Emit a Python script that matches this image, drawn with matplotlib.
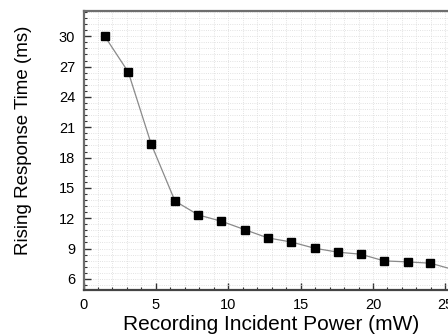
import matplotlib
matplotlib.use("Agg")
import matplotlib.pyplot as plt
from matplotlib.ticker import MultipleLocator

plt.rcParams['font.family'] = ['Liberation Sans', 'DejaVu Sans']

power = [1.47, 3.09, 4.68, 6.32, 7.94, 9.53, 11.14, 12.74, 14.35, 15.97,
         17.58, 19.15, 20.77, 22.39, 23.97, 25.6]
rise_time = [30.0, 26.47, 19.33, 13.7, 12.32, 11.70, 10.87, 10.05, 9.65, 9.03,
             8.64, 8.44, 7.78, 7.68, 7.55, 6.9]
x_ticks = [0, 5, 10, 15, 20, 25]
y_ticks = [6, 9, 12, 15, 18, 21, 24, 27, 30]

W, H = 448, 334
fig = plt.figure(figsize=(W / 100, H / 100), dpi=100)
xmin, xmax = 0, 26
ymin, ymax = 4.9, 32.5
left_px, top_px, bottom_px = 83.5, 11, 290
px_per_unit = 14.44
right_px = 84.4 + px_per_unit * xmax
ax = fig.add_axes([left_px / W, 1 - bottom_px / H,
                   (right_px - left_px) / W, (bottom_px - top_px) / H])

ax.plot(power, rise_time, color='#8a8a8a', lw=0.9, zorder=2)
ax.plot(power, rise_time, ls='none', marker='s', ms=5.2, color='black',
        mec='black', zorder=3)

ax.set_xlim(xmin, xmax)
ax.set_ylim(ymin, ymax)
ax.set_xticks(x_ticks)
ax.set_yticks(y_ticks)
ax.xaxis.set_minor_locator(MultipleLocator(1))
ax.yaxis.set_minor_locator(MultipleLocator(0.6))

ax.grid(which='both', color='#d9d9d9', ls=':', lw=0.6, zorder=0)
ax.set_axisbelow(True)

ax.tick_params(which='major', direction='in', length=5, width=1.0,
               labelsize=10.5, pad=6, color='#333333', top=False, right=False)
ax.tick_params(which='minor', direction='in', length=2.5, width=0.8,
               color='#333333', top=False, right=False)

for side in ['top', 'left', 'bottom']:
    ax.spines[side].set_linewidth(1.6)
ax.spines['top'].set_color('#6e6e6e')
ax.spines['left'].set_color('#6e6e6e')
ax.spines['bottom'].set_color('#444444')
ax.spines['right'].set_visible(False)

fig.text(271 / W, 1 - 330 / H, 'Recording Incident Power (mW)', fontsize=15,
         ha='center', va='baseline')
fig.text(24 / W, 1 - 140.5 / H, 'Rising Response Time (ms)', fontsize=13.5,
         ha='center', va='center', rotation=90)

fig.savefig('out.png', dpi=100)
